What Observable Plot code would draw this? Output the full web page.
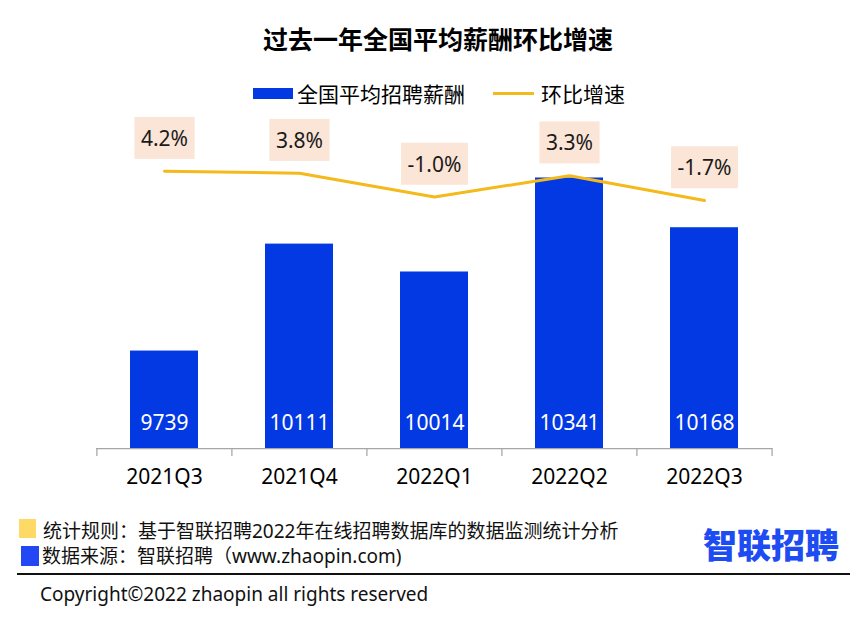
<!DOCTYPE html>
<html>
<head>
<meta charset="utf-8">
<script src="https://cdn.jsdelivr.net/npm/d3@7"></script>
<script src="https://cdn.jsdelivr.net/npm/@observablehq/plot@0.6"></script>
<style>
  html, body { margin: 0; padding: 0; background: #fff; }
  #wrap { position: relative; width: 866px; height: 619px; overflow: hidden;
          font-family: "Noto Sans", "Noto Sans CJK SC", sans-serif; color: #000; }
  .abs { position: absolute; white-space: nowrap; }
  #title { top: 20px; left: 5px; width: 866px; text-align: center; font-family: "Noto Sans CJK SC", sans-serif;
           font-weight: 700; font-size: 25px; line-height: 36px; }
  #legend { top: 78px; left: 253px; height: 30px; line-height: 30px; font-size: 21px; display: flex; align-items: center;
            font-family: "Noto Sans CJK SC", sans-serif; }
  .sw-bar { display: inline-block; width: 40px; height: 11px; background: #0339E3; margin-right: 4px; }
  .sw-line { display: inline-block; width: 41px; height: 3px; background: #F4B91A; margin-left: 28px; margin-right: 7px; }
  .plotbox { position: absolute; left: 0; top: 110px; }
  .foot { font-size: 19px; line-height: 26px; color: #111; }
  .sq { position: absolute; }
  #logo { left: 703px; top: 523px; font-family: "Noto Sans CJK SC", sans-serif; font-weight: 900; font-size: 34px;
          line-height: 42px; color: #1D4CF2; }
  #hr { left: 17px; top: 573px; width: 833px; height: 1.5px; background: #111; }
  #copy { left: 40px; top: 581px; font-size: 19px; line-height: 26px; color: #111; }
</style>
</head>
<body>
<div id="wrap">
  <div id="title" class="abs">过去一年全国平均薪酬环比增速</div>
  <div id="legend" class="abs"><span class="sw-bar"></span><span>全国平均招聘薪酬</span><span class="sw-line"></span><span>环比增速</span></div>
  <div id="bars" class="plotbox"></div>
  <div id="lines" class="plotbox"></div>
  <div class="sq" style="left:19px;top:519px;width:17px;height:19px;background:#FFD966;"></div>
  <div class="abs foot" style="left:43px;top:518px;">统计规则：基于智联招聘2022年在线招聘数据库的数据监测统计分析</div>
  <div class="sq" style="left:21px;top:546px;width:18px;height:20px;background:#2447F5;"></div>
  <div class="abs foot" style="left:42px;top:543px;">数据来源：智联招聘（www.zhaopin.com)</div>
  <div id="logo" class="abs">智联招聘</div>
  <div id="hr" class="abs"></div>
  <div id="copy" class="abs">Copyright©2022 zhaopin all rights reserved</div>
</div>
<script>
// ---- data ----
const quarters = ["2021Q3", "2021Q4", "2022Q1", "2022Q2", "2022Q3"];
const salaries = [9739, 10111, 10014, 10341, 10168];
const rates = [4.2, 3.8, -1.0, 3.3, -1.7];

const data = quarters.map((q, i) => ({q, v: salaries[i], r: rates[i]}));

// ---- layout ----
const W = 866, H = 400, ML = 96, MR = 94, MT = 10, MB = 62;
const Y0 = 9400, Y1 = 10541;          // salary axis (primary)
const R0 = -51.6, R1 = 14.4;          // growth-rate axis (secondary)
const FONT = '"Noto Sans", "Noto Sans CJK SC", sans-serif';
const xOpts = {domain: quarters, paddingInner: 0.5, paddingOuter: 0.25, label: null};
const step = (W - ML - MR) / quarters.length;
const tickUnits = 8 * (Y1 - Y0) / (H - MT - MB);

const bars = Plot.plot({
  width: W, height: H, marginLeft: ML, marginRight: MR, marginTop: MT, marginBottom: MB,
  style: {fontFamily: FONT, fontSize: "21px", background: "transparent", color: "#000", overflow: "visible"},
  x: xOpts,
  y: {domain: [Y0, Y1], axis: null},
  marks: [
    Plot.barY(data, {x: "q", y1: () => Y0, y2: "v", fill: "#0339E3"}),
    Plot.text(data, {x: "q", y: () => Y0, dy: -25, text: d => String(d.v), fill: "#fff", fontSize: 21}),
    Plot.ruleY([Y0], {stroke: "#a6a6a6", strokeWidth: 1.25}),
    Plot.ruleX(quarters, {x: d => d, dx: -step / 2, y1: () => Y0, y2: () => Y0 - tickUnits, stroke: "#a6a6a6", strokeWidth: 1.25}),
    Plot.ruleX(quarters.slice(-1), {x: d => d, dx: step / 2, y1: () => Y0, y2: () => Y0 - tickUnits, stroke: "#a6a6a6", strokeWidth: 1.25}),
    Plot.axisX({tickSize: 0, tickPadding: 21, fontSize: 21, label: null})
  ]
});
document.getElementById("bars").appendChild(bars);

const lines = Plot.plot({
  width: W, height: H, marginLeft: ML, marginRight: MR, marginTop: MT, marginBottom: MB,
  style: {fontFamily: FONT, fontSize: "21px", background: "transparent", color: "#000", overflow: "visible"},
  x: {...xOpts, axis: null},
  y: {domain: [R0, R1], axis: null},
  marks: [
    Plot.line(data, {x: "q", y: "r", stroke: "#F4B91A", strokeWidth: 3, strokeLinecap: "round", strokeLinejoin: "round"}),
    Plot.text(data, {x: "q", y: "r", dy: -32, text: d => d.r.toFixed(1) + "%", fontSize: 21, fill: "#1a1a1a"})
  ]
});
document.getElementById("lines").appendChild(lines);

// label boxes sized to their text
lines.querySelectorAll('g[aria-label="text"]').forEach(g => {
  g.querySelectorAll("text").forEach(t => {
    const bb = t.getBBox();
    if (!bb.width) return;
    const cy = bb.y + bb.height / 2;
    const rect = document.createElementNS("http://www.w3.org/2000/svg", "rect");
    rect.setAttribute("x", bb.x - 6.5);
    rect.setAttribute("y", cy - 21);
    rect.setAttribute("width", bb.width + 13);
    rect.setAttribute("height", 42);
    rect.setAttribute("fill", "#FBE5D6");
    rect.setAttribute("stroke", "none");
    const tr = t.getAttribute("transform");
    if (tr) rect.setAttribute("transform", tr);
    g.insertBefore(rect, t);
  });
});
</script>
</body>
</html>
